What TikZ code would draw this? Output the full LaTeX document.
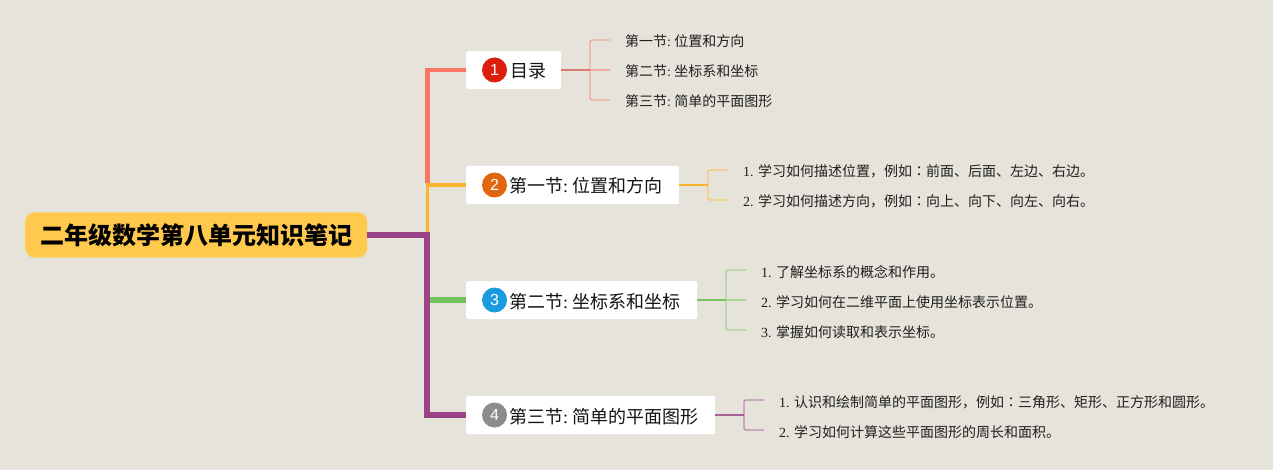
\documentclass[tikz,border=0pt]{standalone}
\usepackage{fontspec}
\setmainfont{Liberation Serif}
\newfontfamily\cjk{Noto Sans CJK SC}
\newfontfamily\cjktc{Noto Sans CJK TC}
\newfontfamily\numfont{Liberation Sans}
\newcommand{\cj}[1]{{\cjk #1}}
\newcommand{\cjcolon}{{\cjktc ：}}
\newcommand{\colsp}{:\kern0.25em}
\definecolor{bg}{HTML}{E6E3DB}
\definecolor{rootfill}{HTML}{FFC94D}
\definecolor{sal}{HTML}{FB7566}
\definecolor{salstub}{HTML}{D97B6D}
\definecolor{salleaf}{HTML}{F2A99D}
\definecolor{ora}{HTML}{FDB22B}
\definecolor{oraleaf}{HTML}{F6C86C}
\definecolor{gre}{HTML}{74C15F}
\definecolor{greleaf}{HTML}{A9D596}
\definecolor{pur}{HTML}{9A4487}
\definecolor{purleaf}{HTML}{BC8BB4}
\definecolor{badgeA}{HTML}{DB1F0C}
\definecolor{badgeB}{HTML}{E2650F}
\definecolor{badgeC}{HTML}{1A9BE0}
\definecolor{badgeD}{HTML}{8C8C8C}
\tikzset{
  x=1pt,y=-1pt,
  rootbox/.style={anchor=west,fill=rootfill,rounded corners=9pt,minimum width=342pt,minimum height=45pt,inner xsep=0pt,inner ysep=0pt,font=\fontsize{24}{24}\selectfont\bfseries,text=black,align=center},
  mainbox/.style={anchor=west,fill=white,rounded corners=2pt,inner xsep=0pt,inner ysep=10pt,text height=17pt,text depth=1pt,font=\fontsize{18}{18}\selectfont,text=black!92,align=left},
  badge/.style={circle,minimum size=25pt,inner sep=0pt,text=white,font=\numfont\fontsize{16}{16}\selectfont},
  leaf/.style={anchor=west,inner ysep=0pt,inner xsep=0pt,outer xsep=0pt,text height=15pt,text depth=1pt,font=\fontsize{14}{14}\selectfont,text=black!88},
  thin line/.style={line width=1.4pt,rounded corners=2pt},
  stub line/.style={line width=1.6pt},
}
\newcommand{\leafnode}[4]{%
  \coordinate (#1) at (#2,#3);
  \node[leaf] (#1t) at ([xshift=15pt]#1) {#4};}
\begin{document}
\begin{tikzpicture}
\useasboundingbox (0,0) rectangle (1273,470);
\fill[bg] (0,0) rectangle (1273,470);
% nodes
\node[rootbox] (root) at (25,235) {\raisebox{-2pt}{\cj{\bfseries 二年级数学第八单元知识笔记}}};
\node[mainbox,text width=95pt] (n1) at (466,70) {\hspace*{44pt}\cj{目录}};
\node[mainbox,text width=213pt] (n2) at (466,185) {\hspace*{43pt}\cj{第一节}\colsp\cj{位置和方向}};
\node[mainbox,text width=231pt] (n3) at (466,300) {\hspace*{43pt}\cj{第二节}\colsp\cj{坐标系和坐标}};
\node[mainbox,text width=249pt] (n4) at (466,415) {\hspace*{43pt}\cj{第三节}\colsp\cj{简单的平面图形}};
\node[badge,fill=badgeA] (b1) at (494.5,70) {1};
\node[badge,fill=badgeB] (b2) at (494.5,185) {2};
\node[badge,fill=badgeC] (b3) at (494.5,300) {3};
\node[badge,fill=badgeD] (b4) at (494.5,415) {4};
% junctions
\coordinate (trunk) at (427,235);
\coordinate (salstart) at (427.5,183);
\coordinate (oratop) at (427.5,185);
\coordinate (oraend) at (427.5,235);
\coordinate (grestart) at (430,300);
\coordinate (j1) at (590,70);
\coordinate (j2) at (708,185);
\coordinate (j3) at (726,300);
\coordinate (j4) at (744,415);
% leaves
\leafnode{a1}{610}{40}{\cj{第一节}\colsp\cj{位置和方向}}
\leafnode{a2}{610}{70}{\cj{第二节}\colsp\cj{坐标系和坐标}}
\leafnode{a3}{610}{100}{\cj{第三节}\colsp\cj{简单的平面图形}}
\leafnode{c1}{728}{170}{1. \cj{学习如何描述位置，例如}\cjcolon\cj{前面、后面、左边、右边。}}
\leafnode{c2}{728}{200}{2. \cj{学习如何描述方向，例如}\cjcolon\cj{向上、向下、向左、向右。}}
\leafnode{d1}{746}{270}{1. \cj{了解坐标系的概念和作用。}}
\leafnode{d2}{746}{300}{2. \cj{学习如何在二维平面上使用坐标表示位置。}}
\leafnode{d3}{746}{330}{3. \cj{掌握如何读取和表示坐标。}}
\leafnode{e1}{764}{400}{1. \cj{认识和绘制简单的平面图形，例如}\cjcolon\cj{三角形、矩形、正方形和圆形。}}
\leafnode{e2}{764}{430}{2. \cj{学习如何计算这些平面图形的周长和面积。}}
% trunk
\draw[sal,line width=4.5pt] (salstart) |- (n1.west);
\draw[ora,line width=3.5pt] (oraend) -- (oratop) -- (n2.west);
\draw[gre,line width=5.5pt] (grestart) -- (n3.west);
\draw[pur,line width=5.5pt] (root.east) -- (trunk) |- (n4.west);
% branches
\draw[salleaf,thin line] (a1) -| (j1) |- (a3);
\draw[salleaf,line width=1.4pt] (j1) -- (a2);
\draw[salstub,stub line] (n1.east) -- (j1);
\draw[oraleaf,thin line] (c1) -| (j2) |- (c2);
\draw[ora,stub line] (n2.east) -- (j2);
\draw[greleaf,thin line] (d1) -| (j3) |- (d3);
\draw[greleaf,line width=1.4pt] (j3) -- (d2);
\draw[gre,stub line] (n3.east) -- (j3);
\draw[purleaf,thin line] (e1) -| (j4) |- (e2);
\draw[pur!85!white,stub line] (n4.east) -- (j4);
\end{tikzpicture}
\end{document}
